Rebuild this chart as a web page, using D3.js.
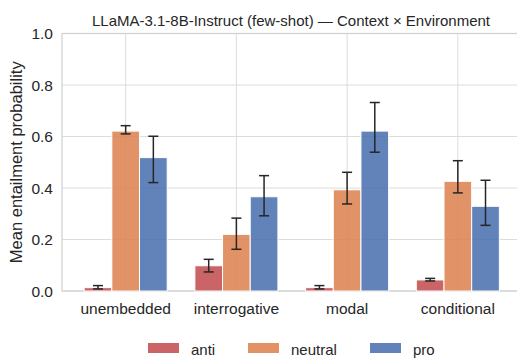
<!DOCTYPE html>
<html>
<head>
<meta charset="utf-8">
<script src="https://cdn.jsdelivr.net/npm/d3@7"></script>
<style>
  body { margin: 0; background: #fff; }
  svg { display: block; font-family: "Liberation Sans", Arial, sans-serif; }
</style>
</head>
<body>
<div id="chart"></div>
<script>
/* DATA */
const contexts = ["unembedded", "interrogative", "modal", "conditional"];
const environments = ["anti", "neutral", "pro"];
const antiMean = [0.013, 0.098, 0.013, 0.043];
const antiLow = [0.008, 0.074, 0.008, 0.039];
const antiHigh = [0.021, 0.123, 0.021, 0.049];
const neutralMean = [0.621, 0.220, 0.393, 0.426];
const neutralLow = [0.610, 0.162, 0.338, 0.381];
const neutralHigh = [0.642, 0.283, 0.461, 0.506];
const proMean = [0.518, 0.366, 0.621, 0.329];
const proLow = [0.421, 0.292, 0.539, 0.255];
const proHigh = [0.601, 0.448, 0.732, 0.430];
const yTicks = [0.0, 0.2, 0.4, 0.6, 0.8, 1.0];

const colors = { anti: "#C44E52", neutral: "#DD8452", pro: "#4C72B0" };

const series = [
  { env: "anti", mean: antiMean, lo: antiLow, hi: antiHigh },
  { env: "neutral", mean: neutralMean, lo: neutralLow, hi: neutralHigh },
  { env: "pro", mean: proMean, lo: proLow, hi: proHigh }
];

const width = 517, height = 358;
const margin = { top: 33.5, bottom: 67, left: 62 };

const svg = d3.select("#chart").append("svg")
  .attr("width", width)
  .attr("height", height);

// category positions as numbers, like matplotlib
const xScale = d3.scaleLinear()
  .domain([-0.575, 3.575])
  .range([margin.left, 521.5]);

const yScale = d3.scaleLinear()
  .domain([0, 1])
  .range([height - margin.bottom, margin.top]);

const barW = 0.25;
const offsets = { anti: -0.25, neutral: 0, pro: 0.25 };

// grid
svg.append("g")
  .selectAll("line.hgrid")
  .data(yTicks)
  .join("line")
  .attr("x1", margin.left).attr("x2", width)
  .attr("y1", d => yScale(d)).attr("y2", d => yScale(d))
  .attr("stroke", "#dcdcdc").attr("stroke-width", 1);

svg.append("g")
  .selectAll("line.vgrid")
  .data(contexts)
  .join("line")
  .attr("x1", (d, i) => xScale(i)).attr("x2", (d, i) => xScale(i))
  .attr("y1", yScale(0)).attr("y2", yScale(1))
  .attr("stroke", "#dcdcdc").attr("stroke-width", 1);

// spines
svg.append("rect")
  .attr("x", margin.left).attr("y", yScale(1))
  .attr("width", 600).attr("height", yScale(0) - yScale(1))
  .attr("fill", "none").attr("stroke", "#d0d0d0").attr("stroke-width", 1.2);

// bars
const groups = svg.append("g")
  .selectAll("g")
  .data(series)
  .join("g");

groups.selectAll("rect")
  .data(s => s.mean.map((v, i) => ({ env: s.env, i, v })))
  .join("rect")
  .attr("x", d => xScale(d.i + offsets[d.env] - barW / 2))
  .attr("width", d => xScale(barW) - xScale(0))
  .attr("y", d => yScale(d.v))
  .attr("height", d => yScale(0) - yScale(d.v))
  .attr("fill", d => colors[d.env])
  .attr("fill-opacity", 0.88)
  .attr("stroke", "#fff")
  .attr("stroke-width", 1);

// error bars
const errs = groups.selectAll("g.err")
  .data(s => s.mean.map((v, i) => ({ env: s.env, i, lo: s.lo[i], hi: s.hi[i] })))
  .join("g")
  .attr("class", "err")
  .attr("stroke", "#262626")
  .attr("stroke-width", 1.5);

errs.append("line")
  .attr("x1", d => xScale(d.i + offsets[d.env])).attr("x2", d => xScale(d.i + offsets[d.env]))
  .attr("y1", d => yScale(d.lo)).attr("y2", d => yScale(d.hi));
errs.selectAll("line.cap")
  .data(d => [[d, d.lo], [d, d.hi]])
  .join("line")
  .attr("class", "cap")
  .attr("x1", d => xScale(d[0].i + offsets[d[0].env]) - 5)
  .attr("x2", d => xScale(d[0].i + offsets[d[0].env]) + 5)
  .attr("y1", d => yScale(d[1])).attr("y2", d => yScale(d[1]));

// y tick labels
svg.append("g")
  .selectAll("text")
  .data(yTicks)
  .join("text")
  .attr("x", margin.left - 9)
  .attr("y", d => yScale(d))
  .attr("dy", "0.36em")
  .attr("text-anchor", "end")
  .attr("font-size", 15.5)
  .attr("fill", "#262626")
  .text(d => d.toFixed(1));

// x tick labels
svg.append("g")
  .selectAll("text")
  .data(contexts)
  .join("text")
  .attr("x", (d, i) => xScale(i))
  .attr("y", yScale(0) + 23)
  .attr("text-anchor", "middle")
  .attr("font-size", 15.5)
  .attr("fill", "#262626")
  .text(d => d);

// y axis label
svg.append("text")
  .attr("transform", `translate(22,${(yScale(0) + yScale(1)) / 2}) rotate(-90)`)
  .attr("text-anchor", "middle")
  .attr("font-size", 16.5)
  .attr("fill", "#262626")
  .text("Mean entailment probability");

// title
svg.append("text")
  .attr("x", 291)
  .attr("y", 26)
  .attr("text-anchor", "middle")
  .attr("font-size", 15)
  .attr("fill", "#262626")
  .text("LLaMA-3.1-8B-Instruct (few-shot) \u2014 Context \u00d7 Environment");

// legend
const legendX = [148, 248, 370];
const legend = svg.append("g")
  .selectAll("g")
  .data(environments)
  .join("g")
  .attr("transform", (d, i) => `translate(${legendX[i]},343)`);

legend.append("rect")
  .attr("width", 31).attr("height", 10)
  .attr("fill", d => colors[d])
  .attr("fill-opacity", 0.88);

legend.append("text")
  .attr("x", 43).attr("y", 12)
  .attr("font-size", 15)
  .attr("fill", "#262626")
  .text(d => d);
</script>
</body>
</html>
